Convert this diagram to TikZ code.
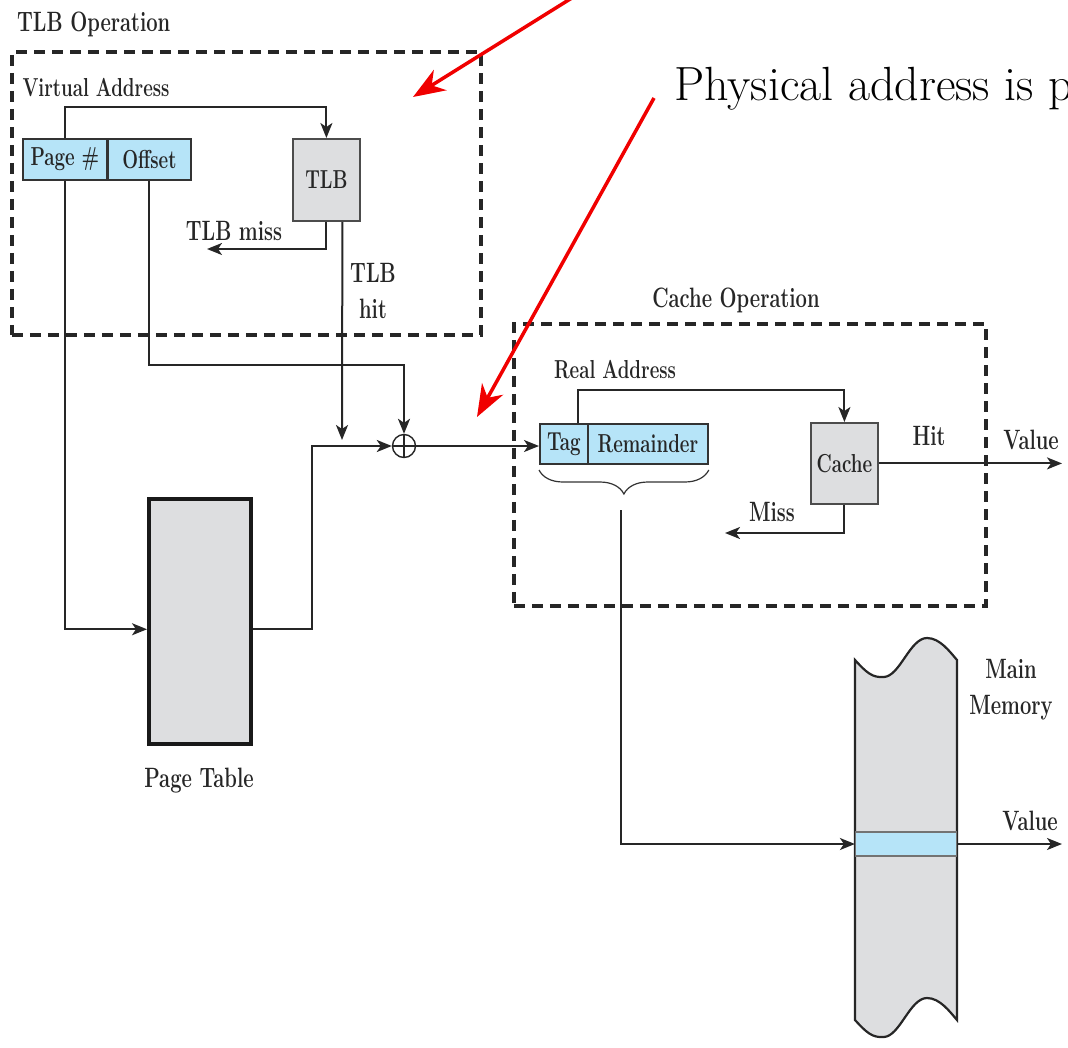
\documentclass[tikz,border=0pt]{standalone}
\usepackage{fontspec}
\usepackage{graphicx}
\usepackage{tikz}
\usetikzlibrary{arrows.meta,positioning,calc,decorations.pathreplacing}
\definecolor{addrblue}{RGB}{182,228,248}
\definecolor{boxgray}{RGB}{221,222,224}
\definecolor{callred}{RGB}{240,0,0}
\newcommand{\nar}[1]{\scalebox{0.72}[1]{#1}}

\begin{document}
\begin{tikzpicture}[
  x=1pt, y=-1pt,
  lbl/.style={font=\rmfamily\bfseries\fontsize{28}{36}\selectfont, text=black!85, inner sep=0pt},
  sml/.style={lbl, font=\rmfamily\bfseries\fontsize{26}{30}\selectfont},
  field/.style={draw=black!80, line width=1.8pt, fill=addrblue, sml, minimum height=41pt,
                anchor=north west},
  unit/.style={draw=black!70, line width=1.8pt, fill=boxgray, sml, anchor=north west},
  grp/.style={draw=black!85, line width=3.5pt, dash pattern=on 11pt off 7pt, anchor=north west},
  arr/.style={-{Stealth[length=15pt,width=12pt,inset=4pt]}, line width=2pt, black!85},
  callout/.style={-{Stealth[length=32pt,width=24pt,inset=10pt]}, line width=3.5pt, callred},
]
\useasboundingbox (0,0) rectangle (1068,1047);
\clip (0,0) rectangle (1068,1047);

% TLB side
\node[lbl, anchor=west] (tlbtitle) at (17,24) {\nar{TLB Operation}};
\node[grp, minimum width=469pt, minimum height=283pt] (tlbgrp) at (10,50) {};
\node[sml] (va) at (96,88) {\nar{Virtual Address}};
\node[field, minimum width=84pt] (pnum) at (22,138) {\nar{Page \#}};
\node[field, minimum width=83pt] (offset) at (107,138) {\nar{Offset}};
\node[unit, minimum width=67pt, minimum height=82pt] (tlb) at (292,138) {\nar{TLB}};
\node[lbl] (tlbmiss) at (234,231) {\nar{TLB miss}};
\node[lbl, align=center] (tlbhit) at (373,291) {\nar{TLB}\\\nar{hit}};
\node[circle, draw=black!85, line width=1.4pt, minimum size=23pt, inner sep=0pt, fill=white,
      path picture={\draw[line width=2pt] (path picture bounding box.north) -- (path picture bounding box.south)
                    (path picture bounding box.west) -- (path picture bounding box.east);}] (sum) at (404,446) {};
\node[unit, draw=black!90, line width=3.5pt, minimum width=102pt, minimum height=245pt] (ptab) at (147,497) {};
\node[lbl] (ptablbl) at (199,781) {\nar{Page Table}};

% cache side
\node[lbl] (cachetitle) at (736,300) {\nar{Cache Operation}};
\node[grp, minimum width=472pt, minimum height=282pt] (cachegrp) at (512,322) {};
\node[sml] (ra) at (615,370) {\nar{Real Address}};
\node[field, minimum width=48pt, minimum height=40pt] (tag) at (539,423) {\nar{Tag}};
\node[field, minimum width=120pt, minimum height=40pt] (rem) at (587,423) {\nar{Remainder}};
\node[unit, minimum width=67pt, minimum height=81pt] (cache) at (810,422) {\nar{Cache}};
\node[lbl] (hit) at (929,436) {\nar{Hit}};
\node[lbl] (val1) at (1031,440) {\nar{Value}};
\node[lbl] (miss) at (772,512) {\nar{Miss}};

% main memory
\draw[line width=2.2pt, draw=black!85, fill=boxgray]
  (855,660) .. controls (866,672) and (872,678) .. (884,677)
  .. controls (900,676) and (910,638) .. (927,638)
  .. controls (940,638) and (950,652) .. (957,660)
  -- (957,1020) .. controls (950,1012) and (940,998) .. (927,998)
  .. controls (910,998) and (900,1036) .. (884,1037)
  .. controls (872,1038) and (866,1032) .. (855,1020) -- cycle;
\node[draw=black!55, line width=1.2pt, fill=addrblue, minimum width=101pt, minimum height=24pt,
      inner sep=0pt] (slot) at (906,844) {};
\node[lbl, align=center] (memlbl) at (1011,690) {\nar{Main}\\\nar{Memory}};
\node[lbl] (val2) at (1030,821) {\nar{Value}};

\node[font=\rmfamily\fontsize{48}{56}\selectfont, anchor=base west, inner sep=0pt] (phys) at (674,100) {Physical address is p};

\coordinate (missend) at (207,249);
\coordinate (hitend) at (342,440);
\coordinate (cmissend) at (725,533);
\coordinate (hitout) at (1062,463);
\coordinate (memout) at (1062,844);
\coordinate (bracetip) at (621,510);
\coordinate (redfrom) at (575,-4);
\coordinate (redto) at (413,97);
\coordinate (physfrom) at (654,98);
\coordinate (physto) at (477,417);

\draw[arr] (pnum.north) -- ++(0,-31) -| (tlb.north);
\draw[arr] (tlb.south) |- (missend);
\draw[arr] ([xshift=16pt]tlb.south) -- (hitend);
\draw[arr] (pnum.south) |- ([yshift=-8pt]ptab.west);
\draw[arr] (offset.south) -- ++(0,184) -| (sum.north);
\draw[arr] ([yshift=-8pt]ptab.east) -- ++(59,0) |- (sum.west);
\draw[arr] (sum.east) -- (sum.east -| tag.west);
\draw[arr] ([xshift=14pt]tag.north) -- ++(0,-33) -| (cache.north);
\draw[arr] (cache.east) -- (cache.east -| hitout);
\draw[arr] (cache.south) |- (cmissend);
\draw[line width=1.2pt, black!80, decorate, decoration={brace, mirror, amplitude=24pt}]
  (tag.south west |- 0,470) -- (rem.south east |- 0,470);
\draw[arr] (bracetip) |- (slot.west);
\draw[arr] (slot.east) -- (memout);

\draw[callout] (redfrom) -- (redto);
\draw[callout] (physfrom) -- (physto);
\end{tikzpicture}
\end{document}
